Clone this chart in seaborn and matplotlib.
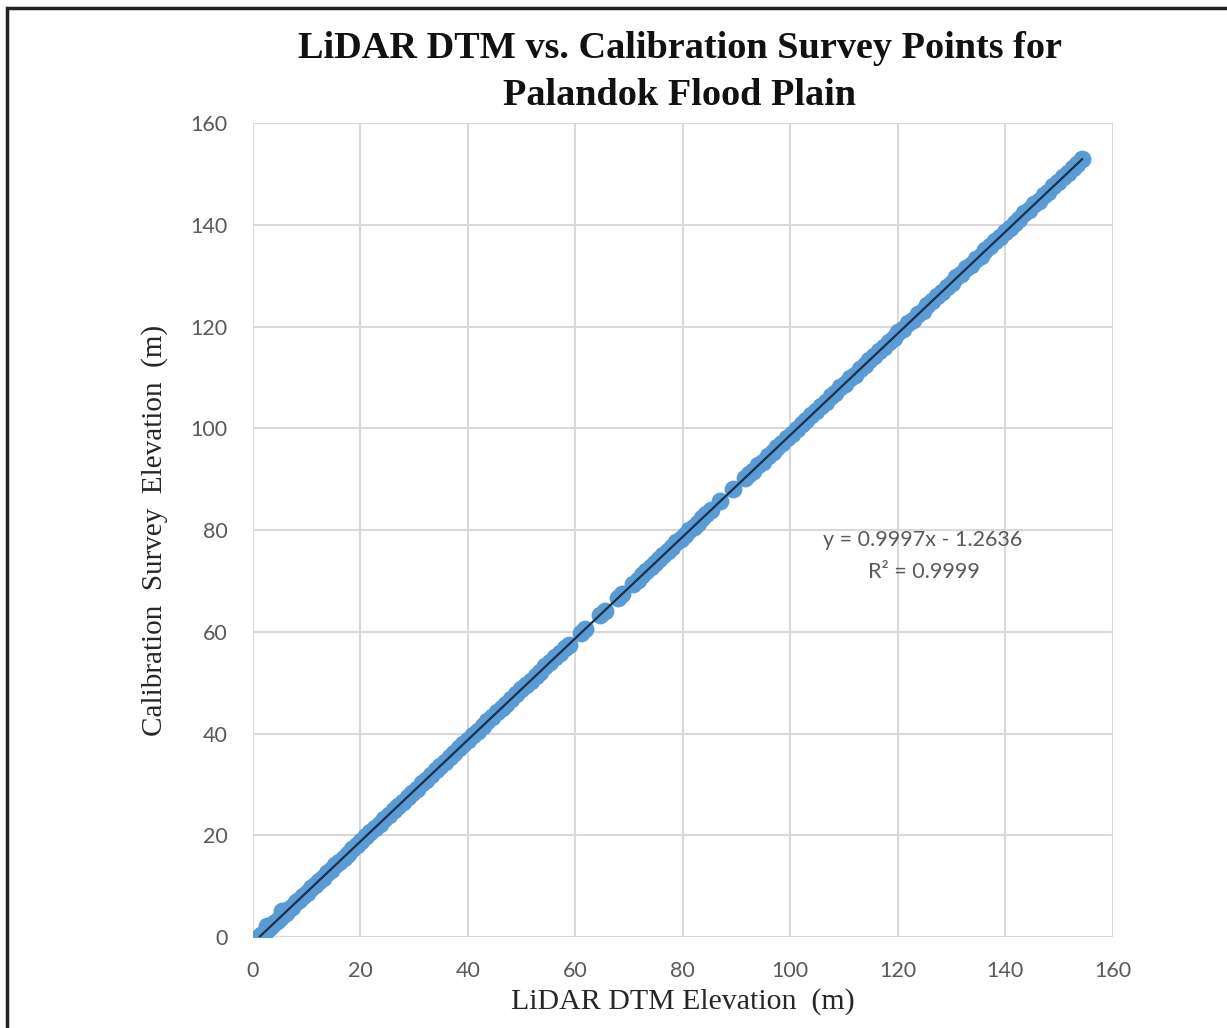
import matplotlib
matplotlib.use("Agg")
import matplotlib.pyplot as plt
import seaborn as sns
import pandas as pd
from matplotlib.patches import Rectangle

# ---------------- data ----------------
lidar_a = [1.2, 1.6, 2.0, 2.6, 2.5, 3.0, 3.4, 4.0, 4.5, 5.0, 5.6, 5.5, 6.1, 6.7, 7.3, 8.0, 8.6, 9.3, 10.0, 10.8,
           11.5, 12.3, 13.0, 13.8, 14.5, 15.3, 16.0, 16.9, 17.7, 18.5, 19.4, 20.2, 21.0, 21.9, 22.7, 23.6, 24.5, 25.3, 26.2, 27.0,
           27.9, 28.8, 29.6, 30.5, 31.4, 32.2, 33.1, 34.0, 34.9, 35.7, 36.6, 37.5, 38.4, 39.2, 40.1, 41.0, 41.9, 42.8, 43.6, 44.5,
           45.4, 46.3, 47.2, 48.1, 49.0, 49.9, 50.8, 51.7, 52.6, 53.5, 54.4, 55.3, 56.2, 57.1, 58.0, 58.8]
survey_a = [0.1, 0.3, 0.8, 2.2, 1.1, 1.8, 2.1, 2.8, 3.2, 3.7, 4.4, 5.1, 4.8, 5.5, 6.0, 6.8, 7.3, 8.1, 8.7, 9.6,
            10.2, 11.1, 11.7, 12.6, 13.2, 14.1, 14.8, 15.6, 16.4, 17.3, 18.1, 18.9, 19.8, 20.6, 21.4, 22.3, 23.3, 24.0, 24.9, 25.8,
            26.6, 27.6, 28.3, 29.2, 30.2, 30.9, 31.8, 32.8, 33.6, 34.4, 35.4, 36.2, 37.1, 38.0, 38.8, 39.8, 40.6, 41.5, 42.4, 43.2,
            44.2, 45.0, 45.9, 46.9, 47.7, 48.7, 49.5, 50.4, 51.4, 52.2, 53.2, 54.0, 55.0, 55.8, 56.8, 57.5]

lidar_b = [61.0, 61.8, 64.6, 65.5, 67.9, 68.7, 70.8, 71.6, 72.4, 73.2, 74.0, 74.8, 75.6, 76.4, 77.2, 78.0, 78.8, 79.6, 80.4, 81.2,
           82.0, 82.8, 83.6, 84.4, 85.2, 87.0, 89.4, 91.6, 92.3, 93.0]
survey_b = [59.7, 60.6, 63.3, 64.2, 66.6, 67.5, 69.5, 70.3, 71.1, 71.9, 72.8, 73.5, 74.3, 75.2, 75.9, 76.7, 77.6, 78.3, 79.1, 80.0,
            80.7, 81.5, 82.4, 83.1, 83.9, 85.7, 88.1, 90.3, 91.1, 91.7]

lidar_c = [94.0, 94.9, 95.8, 96.7, 97.6, 98.5, 99.4, 100.3, 101.2, 102.1, 103.0, 103.9, 104.8, 105.7, 106.6, 107.5, 108.4, 109.3,
           110.2, 111.1, 112.0, 112.9, 113.8, 114.7, 115.6, 116.5, 117.4, 118.3, 119.2, 120.1, 121.0, 121.9, 122.8, 123.7, 124.6,
           125.5, 126.4, 127.3, 128.2, 129.1, 130.0, 130.9, 131.8, 132.7, 133.6, 134.5, 135.4, 136.3, 137.2, 138.1, 139.0, 139.9,
           140.8, 141.7, 142.6, 143.5, 144.4, 145.3, 146.2, 147.1, 148.0, 148.9, 149.8, 150.7, 151.6, 152.5, 153.4, 154.3]
survey_c = [92.8, 93.5, 94.6, 95.3, 96.4, 97.1, 98.2, 98.9, 99.9, 100.8, 101.6, 102.7, 103.4, 104.5, 105.2, 106.3, 107.0, 108.1,
            108.8, 109.9, 110.6, 111.7, 112.4, 113.5, 114.2, 115.3, 116.0, 117.1, 117.8, 118.9, 119.6, 120.7, 121.4, 122.5, 123.2,
            124.3, 125.0, 126.1, 126.8, 127.9, 128.6, 129.7, 130.4, 131.5, 132.2, 133.3, 134.0, 135.1, 135.8, 136.9, 137.6, 138.7,
            139.4, 140.5, 141.2, 142.3, 143.0, 144.1, 144.8, 145.9, 146.6, 147.7, 148.4, 149.5, 150.2, 151.3, 152.0, 153.0]

tick_values = [0, 20, 40, 60, 80, 100, 120, 140, 160]
equation_text = "y = 0.9997x - 1.2636"
r2_text = "R² = 0.9999"
title_text = "LiDAR DTM vs. Calibration Survey Points for\nPalandok Flood Plain"
xlabel_text = "LiDAR DTM Elevation  (m)"
ylabel_text = "Calibration  Survey  Elevation  (m)"

df = pd.DataFrame({
    "lidar": lidar_a + lidar_b + lidar_c,
    "survey": survey_a + survey_b + survey_c,
})

# ---------------- plot ----------------
sns.set_theme(style="white")
plt.rcParams["font.family"] = ["Lato", "DejaVu Sans"]

fig = plt.figure(figsize=(12.27, 10.28), dpi=100)
ax = fig.add_axes([0.206, 0.0885, 0.701, 0.7915])

sns.regplot(data=df, x="lidar", y="survey", ax=ax, ci=None,
            scatter_kws=dict(s=165, color="#5b9bd5", edgecolor="#5b9bd5", linewidths=0, alpha=1.0, zorder=3),
            line_kws=dict(color="#1c2f45", lw=1.6, zorder=4))

ax.set_xlim(0, 160)
ax.set_ylim(0, 160)
ax.set_xticks(tick_values)
ax.set_yticks(tick_values)
ax.grid(True, color="#d9d9d9", lw=1.5, zorder=0)
ax.set_axisbelow(True)
for s in ax.spines.values():
    s.set_visible(False)
ax.tick_params(axis="both", length=0, labelsize=15.5, labelcolor="#595959")
ax.tick_params(axis="x", pad=17)
ax.tick_params(axis="y", pad=18)

serif = ["Liberation Serif", "DejaVu Serif"]
ax.set_xlabel(xlabel_text, family=serif, fontsize=21.5, color="#262626", labelpad=5)
ax.set_ylabel(ylabel_text, family=serif, fontsize=21, color="#262626", labelpad=16)

fig.text(0.554, 0.930, title_text, ha="center", va="center", family=serif,
         fontsize=27.5, fontweight="bold", color="#111111", linespacing=1.42)

ax.text(124.7, 78.0, equation_text, ha="center", va="center", fontsize=15.5, color="#595959")
ax.text(124.9, 71.7, r2_text, ha="center", va="center", fontsize=15.5, color="#595959")

fig.patches.append(Rectangle((0.006, -0.02), 1.05, 1.012, transform=fig.transFigure,
                             fill=False, edgecolor="#222222", lw=2.5))

fig.savefig("out.png", dpi=100, facecolor="white")
